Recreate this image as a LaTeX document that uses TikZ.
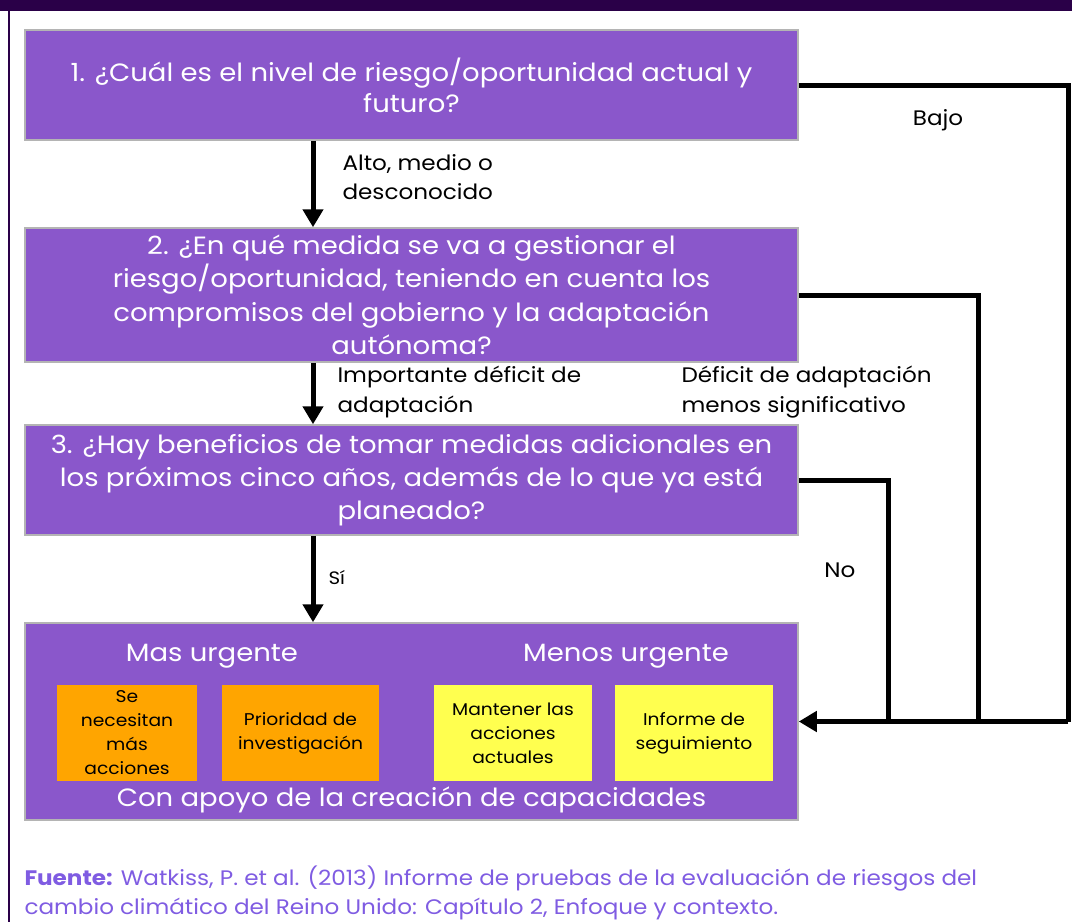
\documentclass[tikz,border=0pt]{standalone}
\usepackage{fontspec}
\setmainfont{Poppins}[FakeStretch=1.1]
\usetikzlibrary{arrows.meta}
\definecolor{boxpurple}{HTML}{8A57CB}
\definecolor{boxedge}{HTML}{B4B4B4}
\definecolor{barpurple}{HTML}{2A0048}
\definecolor{urgorange}{HTML}{FFA500}
\definecolor{lowyellow}{HTML}{FFFF4F}
\definecolor{notepurple}{HTML}{7F5CE2}
\begin{document}
\begin{tikzpicture}[x=1pt,y=-1pt,
	question/.style={draw=boxedge, line width=1.5pt, fill=boxpurple, text=white, align=center,
		minimum width=773pt, inner sep=0pt, font=\fontsize{25}{33.5}\selectfont},
	actbox/.style={inner sep=0pt, minimum width=150pt, minimum height=96pt, align=center,
		font=\fontsize{17}{24}\selectfont},
	lbl/.style={anchor=west, align=left, font=\fontsize{21}{29.5}\selectfont},
	link/.style={line width=5pt},
	flow/.style={line width=5pt, -{Triangle[length=18pt,width=20pt]}}]
	\useasboundingbox (0,0) rectangle (1072,922);
	\fill[barpurple] (0,0) rectangle (1072,11);
	\draw[barpurple, line width=1.5pt] (9,11) -- (9,922);

	\node (Q1) at (411.5, 85)	[question, minimum height=110pt, font=\fontsize{25}{31}\selectfont]	{1. ¿Cuál es el nivel de riesgo/oportunidad actual y\\futuro?};
	\node (Q2) at (411.5, 295)	[question, minimum height=134pt]	{2. ¿En qué medida se va a gestionar el\\riesgo/oportunidad, teniendo en cuenta los\\compromisos del gobierno y la adaptación\\autónoma?};
	\node (Q3) at (411.5, 480)	[question, minimum height=110pt, font=\fontsize{25}{33}\selectfont]	{3. ¿Hay beneficios de tomar medidas adicionales en\\los próximos cinco años, además de lo que ya está\\planeado?};
	\node (A) at (411.5, 721.5)	[question, minimum height=197pt]	{};

	\node (MU) at (212, 656)	[text=white, font=\fontsize{25}{30}\selectfont]	{Mas urgente};
	\node (LU) at (626, 656)	[text=white, font=\fontsize{25}{30}\selectfont]	{Menos urgente};
	\node (S1) at (127, 733)	[actbox, fill=urgorange, minimum width=140pt]	{Se\\necesitan\\más\\acciones};
	\node (S2) at (300.5, 733)	[actbox, fill=urgorange, minimum width=157pt]	{Prioridad de\\investigación};
	\node (S3) at (513, 733)	[actbox, fill=lowyellow, minimum width=158pt]	{Mantener las\\acciones\\actuales};
	\node (S4) at (694, 733)	[actbox, fill=lowyellow, minimum width=158pt]	{Informe de\\seguimiento};
	\node (CA) at (411.5, 800)	[text=white, font=\fontsize{25}{30}\selectfont]	{Con apoyo de la creación de capacidades};

	\coordinate (spine) at (313, 0);
	\coordinate (B1) at (1068, 721.5);
	\coordinate (B2) at (978, 721.5);
	\coordinate (B3) at (888, 721.5);

	\draw[flow] (Q1.south -| spine) -- (Q2.north -| spine);
	\draw[flow] (Q2.south -| spine) -- (Q3.north -| spine);
	\draw[flow] (Q3.south -| spine) -- (A.north -| spine);
	\draw[link] (Q1.east) -| (B1);
	\draw[link] (Q2.east) -| (B2);
	\draw[link] (Q3.east) -| (B3);
	\draw[flow] (B1) -- (A.east);

	\node (L1) at (339, 177)	[lbl]	{Alto, medio o\\desconocido};
	\node (L2) at (334, 392)	[lbl]	{Importante déficit de\\adaptación};
	\node (L3) at (678, 392)	[lbl]	{Déficit de adaptación\\menos significativo};
	\node (L4) at (325, 578)	[lbl, font=\fontsize{18}{20}\selectfont]	{Sí};
	\node (L5) at (938, 120)	[font=\fontsize{21}{24}\selectfont]	{Bajo};
	\node (L6) at (840, 570)	[font=\fontsize{21}{24}\selectfont]	{No};

	\node (SRC) at (21, 893)	[anchor=west, align=left, text=notepurple, font=\fontsize{21}{29}\selectfont]
		{\textbf{Fuente:} Watkiss, P. et al. (2013) Informe de pruebas de la evaluación de riesgos del\\cambio climático del Reino Unido: Capítulo 2, Enfoque y contexto.};
\end{tikzpicture}
\end{document}
